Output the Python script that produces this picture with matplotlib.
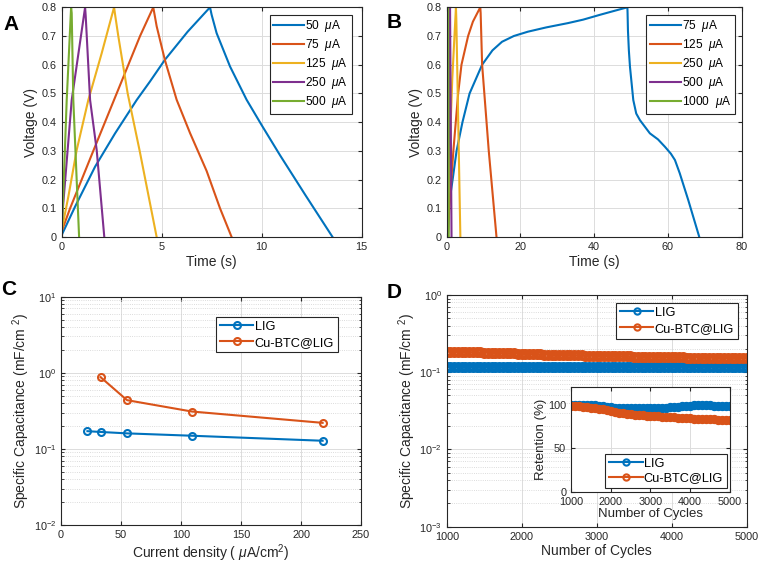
import numpy as np
import matplotlib
matplotlib.use("Agg")
import matplotlib.pyplot as plt
from matplotlib.ticker import LogLocator, NullFormatter

plt.rcParams['font.family'] = ['Liberation Sans', 'DejaVu Sans']
plt.rcParams['mathtext.fontset'] = 'custom'
plt.rcParams['mathtext.rm'] = 'Liberation Sans'
plt.rcParams['mathtext.it'] = 'Liberation Sans:italic'

# MATLAB default colours
c_blue, c_red, c_yel, c_pur, c_grn = '#0072BD', '#D95319', '#EDB120', '#7E2F8E', '#77AC30'
dark = '#262626'

# ---------------- A: GCD of LIG ----------------
a_labels = ['50  $\\mu$A', '75  $\\mu$A', '125  $\\mu$A', '250  $\\mu$A', '500  $\\mu$A']
a50_t = [0, 0.67, 1.67, 2.67, 3.75, 4.42, 5.16, 6.3, 7.42, 7.5, 7.75, 8.42, 9.25, 10.0, 10.92, 12.2, 13.55]
a50_v = [0.007, 0.106, 0.245, 0.361, 0.477, 0.542, 0.617, 0.715, 0.8, 0.774, 0.71, 0.594, 0.478, 0.39, 0.285, 0.145, 0.0]
a75_t = [0, 0.42, 1.58, 2.75, 3.92, 4.58, 4.75, 5.16, 5.75, 6.42, 7.25, 7.92, 8.5]
a75_v = [0.02, 0.1, 0.3, 0.5, 0.7, 0.8, 0.734, 0.617, 0.478, 0.362, 0.23, 0.1, 0.0]
a125_t = [0, 0.33, 0.75, 1.33, 2.0, 2.62, 2.68, 2.83, 3.3, 3.9, 4.75]
a125_v = [0.024, 0.14, 0.303, 0.477, 0.64, 0.8, 0.77, 0.7, 0.5, 0.3, 0.0]
a250_t = [0, 0.5, 1.17, 1.2, 1.42, 1.75, 2.13]
a250_v = [0.05, 0.477, 0.8, 0.77, 0.477, 0.303, 0.0]
a500_t = [0, 0.25, 0.47, 0.5, 0.58, 0.87]
a500_v = [0.0, 0.477, 0.8, 0.78, 0.477, 0.0]

# ---------------- B: GCD of Cu-BTC@LIG ----------------
b_labels = ['75  $\\mu$A', '125  $\\mu$A', '250  $\\mu$A', '500  $\\mu$A', '1000  $\\mu$A']
b75_t = [0.3, 0.7, 1.6, 2.67, 4.27, 6.2, 9.6, 12.4, 15, 18.2, 22, 27, 32.9, 37, 41.6, 45, 49.0,
         49.05, 49.15, 49.4, 49.7, 50.6, 51.4, 52.4, 55.1, 57.3, 59.2, 60.8, 61.9, 63.2, 65.5, 68.5]
b75_v = [0.0, 0.12, 0.2, 0.3, 0.4, 0.5, 0.6, 0.65, 0.68, 0.7, 0.715, 0.73, 0.745, 0.757, 0.774, 0.786, 0.8,
         0.78, 0.72, 0.65, 0.593, 0.477, 0.43, 0.407, 0.361, 0.34, 0.314, 0.29, 0.268, 0.222, 0.129, 0.0]
b125_t = [0.3, 0.7, 1.8, 3.1, 4.0, 5.8, 7.1, 9.1, 9.2, 9.6, 11.4, 13.5]
b125_v = [0.0, 0.1, 0.3, 0.5, 0.6, 0.7, 0.75, 0.8, 0.78, 0.6, 0.3, 0.0]
b250_t = [0.2, 0.8, 1.5, 2.5, 2.6, 3.7]
b250_v = [0.0, 0.3, 0.55, 0.8, 0.76, 0.0]
b500_t = [0.3, 0.9, 1.3]
b500_v = [0.0, 0.8, 0.0]
b1000_t = [0.1, 0.35, 0.55]
b1000_v = [0.0, 0.8, 0.0]

# ---------------- C: rate capability ----------------
c_lig_x = [22, 33, 55, 109, 218]
c_lig_y = [0.171, 0.167, 0.160, 0.149, 0.128]
c_cu_x = [33, 55, 109, 218]
c_cu_y = [0.875, 0.437, 0.310, 0.220]

# ---------------- D: cycling ----------------
d_cycles = np.arange(1000, 5001, 50)
d_lig = [0.117, 0.117, 0.117, 0.117, 0.117, 0.117, 0.117, 0.117, 0.117, 0.117,
         0.117, 0.117, 0.116, 0.116, 0.116, 0.116, 0.116, 0.116, 0.116, 0.116,
         0.116, 0.116, 0.116, 0.116, 0.116, 0.116, 0.116, 0.116, 0.116, 0.116,
         0.116, 0.116, 0.116, 0.116, 0.116, 0.116, 0.116, 0.116, 0.116, 0.116,
         0.116, 0.116, 0.116, 0.116, 0.116, 0.117, 0.117, 0.117, 0.117, 0.117,
         0.117, 0.117, 0.117, 0.117, 0.117, 0.117, 0.117, 0.117, 0.117, 0.117,
         0.117, 0.117, 0.117, 0.117, 0.117, 0.117, 0.117, 0.117, 0.117, 0.117,
         0.117, 0.117, 0.117, 0.117, 0.117, 0.116, 0.116, 0.116, 0.116, 0.116,
         0.116]
d_cu = [0.184, 0.184, 0.183, 0.183, 0.182, 0.182, 0.181, 0.181, 0.180, 0.180,
        0.179, 0.179, 0.178, 0.178, 0.177, 0.176, 0.176, 0.175, 0.175, 0.174,
        0.173, 0.173, 0.172, 0.171, 0.171, 0.170, 0.169, 0.169, 0.168, 0.168,
        0.167, 0.167, 0.166, 0.166, 0.165, 0.165, 0.165, 0.164, 0.164, 0.163,
        0.163, 0.163, 0.162, 0.162, 0.161, 0.161, 0.161, 0.160, 0.160, 0.160,
        0.159, 0.159, 0.159, 0.158, 0.158, 0.158, 0.157, 0.157, 0.157, 0.157,
        0.156, 0.156, 0.156, 0.156, 0.155, 0.155, 0.155, 0.155, 0.155, 0.154,
        0.154, 0.154, 0.154, 0.154, 0.153, 0.153, 0.153, 0.153, 0.153, 0.153,
        0.153]
ins_cycles = np.arange(1000, 5001, 100)
ins_lig = [100.0, 100.0, 100.0, 99.9, 99.8, 99.5, 99.1, 98.6, 98.0, 97.4,
           96.9, 96.5, 96.2, 96.0, 95.9, 95.8, 95.8, 95.8, 95.9, 96.0,
           96.1, 96.2, 96.3, 96.5, 96.7, 96.9, 97.2, 97.6, 98.0, 98.4,
           98.8, 99.1, 99.3, 99.4, 99.3, 99.1, 98.8, 98.5, 98.3, 98.1, 98.0]
ins_cu = [99.0, 98.5, 98.0, 97.5, 97.0, 96.6, 96.0, 95.3, 94.5, 93.5,
          92.5, 91.6, 90.8, 90.1, 89.5, 89.0, 88.5, 88.1, 87.7, 87.4,
          87.1, 86.8, 86.5, 86.2, 85.9, 85.6, 85.3, 85.0, 84.7, 84.4,
          84.2, 84.0, 83.8, 83.6, 83.4, 83.2, 83.0, 82.8, 82.6, 82.5, 82.4]


def style(ax, tick_size=7.8):
    for s in ax.spines.values():
        s.set_color(dark)
        s.set_linewidth(0.8)
    ax.tick_params(which='both', direction='in', top=True, right=True,
                   colors=dark, labelsize=tick_size, length=3)
    ax.tick_params(which='minor', length=1.8)
    ax.grid(True, which='major', color='#dcdcdc', linewidth=0.7)
    ax.set_axisbelow(True)


def legend(ax, loc, anchor, size=8.6, spacing=0.25):
    lg = ax.legend(loc=loc, bbox_to_anchor=anchor, bbox_transform=fig.transFigure,
                   fontsize=size, fancybox=False, framealpha=1, edgecolor=dark,
                   handlelength=2.6, handletextpad=0.1, labelspacing=spacing,
                   borderpad=0.3, borderaxespad=0)
    lg.get_frame().set_linewidth(0.8)
    return lg


fig = plt.figure(figsize=(7.6, 5.7), dpi=100)
colors = [c_blue, c_red, c_yel, c_pur, c_grn]

# Panel A
axA = fig.add_axes([0.0812, 0.5842, 0.3945, 0.4030])
for t, v, c, lab in zip([a50_t, a75_t, a125_t, a250_t, a500_t],
                        [a50_v, a75_v, a125_v, a250_v, a500_v], colors, a_labels):
    axA.plot(t, v, color=c, lw=1.5, label=lab)
axA.set_xlim(0, 15)
axA.set_ylim(0, 0.8)
axA.set_xticks([0, 5, 10, 15])
axA.set_yticks(np.arange(0, 0.81, 0.1))
axA.set_yticklabels(['0', '0.1', '0.2', '0.3', '0.4', '0.5', '0.6', '0.7', '0.8'])
axA.set_xlabel('Time (s)', fontsize=10, color=dark, labelpad=2)
axA.set_ylabel('Voltage (V)', fontsize=10, color=dark, labelpad=3)
style(axA)
legend(axA, 'upper right', (0.463, 0.974))

# Panel B
axB = fig.add_axes([0.5878, 0.5842, 0.3881, 0.4030])
for t, v, c, lab in zip([b75_t, b125_t, b250_t, b500_t, b1000_t],
                        [b75_v, b125_v, b250_v, b500_v, b1000_v], colors, b_labels):
    axB.plot(t, v, color=c, lw=1.5, label=lab)
axB.set_xlim(0, 80)
axB.set_ylim(0, 0.8)
axB.set_xticks([0, 20, 40, 60, 80])
axB.set_yticks(np.arange(0, 0.81, 0.1))
axB.set_yticklabels(['0', '0.1', '0.2', '0.3', '0.4', '0.5', '0.6', '0.7', '0.8'])
axB.set_xlabel('Time (s)', fontsize=10, color=dark, labelpad=2)
axB.set_ylabel('Voltage (V)', fontsize=10, color=dark, labelpad=3)
style(axB)
legend(axB, 'upper right', (0.967, 0.974))

# Panel C
axC = fig.add_axes([0.0803, 0.0789, 0.3947, 0.4006])
axC.plot(c_lig_x, c_lig_y, '-o', color=c_blue, lw=1.5, ms=5, mfc='none', mew=1.5, label='LIG')
axC.plot(c_cu_x, c_cu_y, '-o', color=c_red, lw=1.5, ms=5, mfc='none', mew=1.5, label='Cu-BTC@LIG')
axC.set_yscale('log')
axC.set_xlim(0, 250)
axC.set_ylim(1e-2, 1e1)
axC.set_xticks([0, 50, 100, 150, 200, 250])
style(axC)
axC.yaxis.set_minor_locator(LogLocator(base=10, subs=np.arange(2, 10)))
axC.yaxis.set_minor_formatter(NullFormatter())
axC.grid(True, which='minor', axis='y', color='#d0d0d0', linewidth=0.6, linestyle=':')
axC.set_xlabel('Current density ( $\\mu$A/cm$^2$)', fontsize=10, color=dark, labelpad=2)
axC.set_ylabel('Specific Capacitance (mF/cm $^{2}$)', fontsize=10, color=dark, labelpad=1)
legend(axC, 'upper right', (0.4447, 0.4439), size=9.2, spacing=0.3)

# Panel D
axD = fig.add_axes([0.5878, 0.0760, 0.3947, 0.4065])
axD.plot(d_cycles, d_lig, '-o', color=c_blue, lw=1.5, ms=5.5, mfc='none', mew=2.4, label='LIG')
axD.plot(d_cycles, d_cu, '-o', color=c_red, lw=1.5, ms=5.5, mfc='none', mew=2.4, label='Cu-BTC@LIG')
axD.set_yscale('log')
axD.set_xlim(1000, 5000)
axD.set_ylim(1e-3, 1e0)
axD.set_xticks([1000, 2000, 3000, 4000, 5000])
style(axD)
axD.yaxis.set_minor_locator(LogLocator(base=10, subs=np.arange(2, 10)))
axD.yaxis.set_minor_formatter(NullFormatter())
axD.grid(True, which='minor', axis='y', color='#d0d0d0', linewidth=0.6, linestyle=':')
axD.set_xlabel('Number of Cycles', fontsize=10, color=dark, labelpad=2)
axD.set_ylabel('Specific Capacitance (mF/cm $^{2}$)', fontsize=10, color=dark, labelpad=1)
lgD = legend(axD, 'upper right', (0.971, 0.4684), size=9.2, spacing=0.3)
for h in lgD.get_lines():
    h.set_markersize(4.5)
    h.set_markeredgewidth(1.5)

# Inset of D
axI = fig.add_axes([0.7513, 0.1374, 0.2092, 0.1832])
axI.plot(ins_cycles, ins_lig, '-o', color=c_blue, lw=1.5, ms=4.5, mfc='none', mew=2.2, label='LIG')
axI.plot(ins_cycles, ins_cu, '-o', color=c_red, lw=1.5, ms=4.5, mfc='none', mew=2.2, label='Cu-BTC@LIG')
axI.set_xlim(1000, 5000)
axI.set_ylim(0, 120)
axI.set_xticks([1000, 2000, 3000, 4000, 5000])
axI.set_yticks([0, 50, 100])
style(axI, tick_size=7.8)
axI.set_xlabel('Number of Cycles', fontsize=9.5, color=dark, labelpad=1)
axI.set_ylabel('Retention (%)', fontsize=9.5, color=dark, labelpad=1)
lgI = legend(axI, 'lower right', (0.9566, 0.1439), size=9.2, spacing=0.2)
for h in lgI.get_lines():
    h.set_markersize(4.5)
    h.set_markeredgewidth(1.5)

# panel letters
for x, y, s in [(0.004, 0.948, 'A'), (0.509, 0.951, 'B'), (0.002, 0.482, 'C'), (0.509, 0.477, 'D')]:
    fig.text(x, y, s, fontsize=15, fontweight='bold', color='black')

fig.savefig('out.png', dpi=100)
